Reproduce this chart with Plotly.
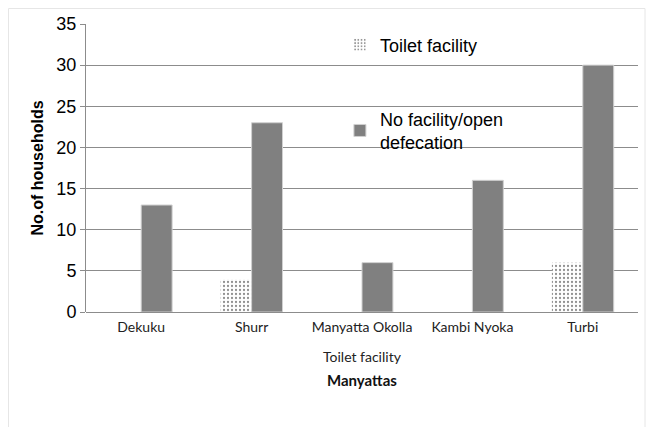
import plotly.graph_objects as go

categories = ["Dekuku", "Shurr", "Manyatta Okolla", "Kambi Nyoka", "Turbi"]
toilet_facility = [0, 4, 0, 0, 6]
no_facility = [13, 23, 6, 16, 30]
y_ticks = [0, 5, 10, 15, 20, 25, 30, 35]

fig = go.Figure()
fig.add_trace(go.Bar(
    x=categories, y=toilet_facility, name="Toilet facility",
    marker=dict(color="white", line=dict(width=0),
                pattern=dict(shape=".", fgcolor="#222222", bgcolor="white", size=4, solidity=0.25)),
    legend="legend",
))
fig.add_trace(go.Bar(
    x=categories, y=no_facility, name="No facility/open<br>defecation",
    marker=dict(color="#808080", line=dict(color="#d0d0d0", width=1)),
    legend="legend2",
))

fig.update_layout(
    width=646, height=419,
    margin=dict(l=78, r=16, t=16, b=115, autoexpand=False),
    paper_bgcolor="white", plot_bgcolor="white",
    barmode="group", bargap=0.44, bargroupgap=0,
    font=dict(family="Arial, Liberation Sans", color="#000000"),
    showlegend=True,
    legend=dict(x=0.46, y=0.927, xanchor="left", yanchor="middle", bgcolor="rgba(0,0,0,0)",
                font=dict(size=18, family="Arial, Liberation Sans"), itemwidth=30),
    legend2=dict(x=0.46, y=0.63, xanchor="left", yanchor="middle", bgcolor="rgba(0,0,0,0)",
                 font=dict(size=18, family="Arial, Liberation Sans"), itemwidth=30),
    xaxis=dict(
        automargin=False,
        tickfont=dict(family="Lato", size=14, color="#222222"),
        showline=False, showgrid=False, ticks="outside", ticklen=2, tickcolor="rgba(0,0,0,0)",
    ),
    yaxis=dict(
        automargin=False,
        range=[0, 35], tickvals=y_ticks, showgrid=True, gridcolor="#8c8c8c", gridwidth=1,
        showline=True, linecolor="#8c8c8c", ticks="outside", ticklen=5, tickcolor="#8c8c8c",
        zeroline=True, zerolinecolor="#8c8c8c", zerolinewidth=1,
        tickfont=dict(size=18, family="Arial, Liberation Sans"),
        title=dict(text="<b>No.of households</b>", font=dict(size=16, family="Arial, Liberation Sans"), standoff=8),
    ),
    annotations=[
        dict(text="Toilet facility", xref="paper", yref="paper", x=0.5, y=(312 - 356) / 288,
             showarrow=False, xanchor="center", yanchor="middle",
             font=dict(family="Lato", size=14, color="#222222")),
        dict(text="<b>Manyattas</b>", xref="paper", yref="paper", x=0.5, y=(312 - 380) / 288,
             showarrow=False, xanchor="center", yanchor="middle",
             font=dict(family="Lato", size=15, color="#111111")),
    ],
    shapes=[dict(type="rect", xref="paper", yref="paper", x0=-77.5 / 552, x1=(637 - 78) / 552,
                 y0=-0.45, y1=303.5 / 288,
                 line=dict(color="#e6e6e6", width=1))],
)

fig.write_html("out.html")
